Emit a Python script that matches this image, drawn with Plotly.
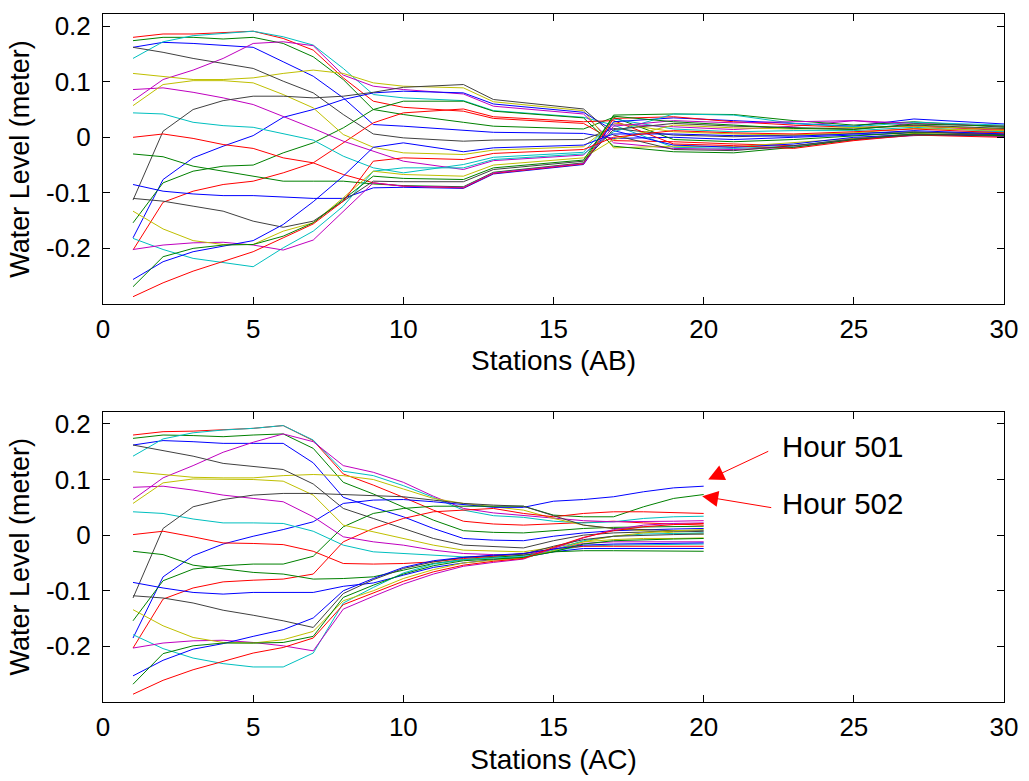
import plotly.graph_objects as go

# ---------------- data: top panel (Stations AB) ----------------
stations_ab = [1, 2, 3, 4, 5, 6, 7, 8, 9, 10, 12, 13, 16, 17, 19, 21, 23, 25, 27, 30]

ab_R1 = [0.180, 0.186, 0.186, 0.189, 0.191, 0.178, 0.157, 0.107, 0.065, 0.054, 0.047, 0.034, 0.025, -0.006, -0.008, -0.012, -0.015, -0.005, 0.006, 0.002]
ab_G1 = [0.174, 0.180, 0.180, 0.177, 0.180, 0.169, 0.145, 0.104, 0.050, 0.041, 0.027, 0.020, 0.015, 0.036, -0.004, -0.008, -0.004, 0.002, 0.009, 0.006]
ab_C1 = [0.142, 0.172, 0.183, 0.187, 0.191, 0.181, 0.166, 0.124, 0.077, 0.071, 0.066, 0.048, 0.036, 0.022, -0.018, -0.020, -0.016, -0.002, 0.006, 0.004]
ab_B1 = [0.162, 0.171, 0.169, 0.166, 0.162, 0.136, 0.110, 0.071, 0.023, 0.020, 0.012, 0.009, 0.007, -0.002, 0.000, -0.004, 0.000, 0.004, 0.008, 0.010]
ab_K1 = [0.162, 0.153, 0.142, 0.133, 0.124, 0.101, 0.080, 0.041, 0.006, -0.001, -0.007, -0.005, -0.004, 0.016, 0.004, 0.001, 0.004, 0.008, 0.010, 0.004]
ab_M2 = [0.066, 0.104, 0.121, 0.142, 0.169, 0.172, 0.165, 0.112, 0.092, 0.086, 0.078, 0.056, 0.042, -0.010, -0.020, -0.022, -0.018, -0.004, 0.003, 0.008]
ab_Y1 = [0.115, 0.110, 0.104, 0.104, 0.107, 0.115, 0.121, 0.115, 0.098, 0.092, 0.089, 0.064, 0.048, -0.019, -0.016, -0.017, -0.010, -0.002, 0.007, 0.009]
ab_Y2 = [0.057, 0.095, 0.102, 0.102, 0.098, 0.077, 0.053, 0.005, -0.018, -0.028, -0.031, -0.023, -0.017, 0.026, 0.010, 0.006, 0.004, 0.008, 0.016, 0.012]
ab_M1 = [0.086, 0.089, 0.081, 0.071, 0.059, 0.038, 0.016, -0.007, -0.025, -0.043, -0.058, -0.042, -0.032, 0.024, 0.019, 0.014, 0.020, 0.030, 0.021, 0.012]
ab_K2 = [-0.113, 0.011, 0.050, 0.066, 0.074, 0.074, 0.071, 0.074, 0.081, 0.090, 0.095, 0.068, 0.051, 0.004, -0.022, -0.024, -0.015, -0.003, 0.004, 0.005]
ab_C2 = [0.044, 0.042, 0.027, 0.021, 0.018, 0.007, -0.005, -0.034, -0.055, -0.064, -0.049, -0.036, -0.027, 0.033, 0.015, 0.010, 0.012, 0.012, 0.018, 0.010]
ab_B3 = [-0.181, -0.076, -0.037, -0.016, 0.003, 0.036, 0.050, 0.068, 0.080, 0.083, 0.080, 0.060, 0.045, 0.012, -0.014, -0.018, -0.012, 0.000, 0.005, 0.002]
ab_R2 = [0.000, 0.006, -0.002, -0.013, -0.020, -0.037, -0.046, -0.067, -0.082, -0.088, -0.091, -0.065, -0.048, 0.034, 0.037, 0.028, 0.022, 0.018, 0.020, 0.014]
ab_G2 = [-0.030, -0.035, -0.052, -0.061, -0.070, -0.079, -0.079, -0.079, -0.084, -0.087, -0.089, -0.063, -0.046, 0.040, 0.042, 0.041, 0.030, 0.022, 0.028, 0.018]
ab_G3 = [-0.154, -0.082, -0.061, -0.052, -0.050, -0.028, -0.010, 0.017, 0.050, 0.065, 0.065, 0.047, 0.035, -0.016, -0.026, -0.028, -0.018, -0.004, 0.006, 0.003]
ab_R3 = [-0.203, -0.117, -0.097, -0.085, -0.079, -0.064, -0.046, -0.010, 0.026, 0.044, 0.051, 0.037, 0.028, 0.030, -0.012, -0.015, -0.020, -0.006, 0.004, 0.000]
ab_B2 = [-0.085, -0.097, -0.102, -0.105, -0.105, -0.108, -0.110, -0.110, -0.091, -0.090, -0.092, -0.066, -0.049, 0.028, 0.035, 0.030, 0.025, 0.020, 0.033, 0.024]
ab_K3 = [-0.110, -0.115, -0.124, -0.133, -0.151, -0.162, -0.151, -0.115, -0.079, -0.080, -0.080, -0.058, -0.043, 0.014, 0.025, 0.020, 0.018, 0.015, 0.022, 0.016]
ab_Y3 = [-0.133, -0.165, -0.186, -0.193, -0.193, -0.169, -0.154, -0.109, -0.061, -0.067, -0.070, -0.050, -0.037, -0.004, 0.022, 0.017, 0.015, 0.017, 0.020, 0.015]
ab_B4 = [-0.256, -0.224, -0.206, -0.196, -0.186, -0.157, -0.116, -0.070, -0.018, -0.010, -0.026, -0.019, -0.014, 0.006, 0.006, 0.003, 0.002, 0.006, 0.012, 0.006]
ab_G4 = [-0.269, -0.215, -0.200, -0.194, -0.193, -0.178, -0.154, -0.112, -0.070, -0.074, -0.076, -0.055, -0.041, 0.038, 0.028, 0.022, 0.016, 0.014, 0.024, 0.020]
ab_R4 = [-0.287, -0.262, -0.241, -0.224, -0.206, -0.181, -0.156, -0.115, -0.043, -0.037, -0.040, -0.029, -0.022, 0.000, 0.012, 0.008, 0.006, 0.010, 0.015, 0.008]
ab_C3 = [-0.182, -0.202, -0.218, -0.226, -0.233, -0.199, -0.169, -0.124, -0.061, -0.055, -0.055, -0.040, -0.030, 0.010, 0.042, 0.040, 0.025, 0.019, 0.027, 0.022]
ab_M3 = [-0.202, -0.194, -0.190, -0.189, -0.194, -0.203, -0.185, -0.133, -0.082, -0.088, -0.090, -0.064, -0.047, 0.020, 0.030, 0.026, 0.028, 0.030, 0.025, 0.020]

# ---------------- data: bottom panel (Stations AC) ----------------
stations_ac = list(range(1, 21))

ac_R1 = [0.180, 0.186, 0.187, 0.189, 0.192, 0.197, 0.170, 0.110, 0.090, 0.068, 0.045, 0.025, 0.020, 0.018, 0.020, 0.022, 0.025, 0.022, 0.020, 0.018]
ac_G1 = [0.174, 0.180, 0.179, 0.177, 0.180, 0.182, 0.156, 0.095, 0.074, 0.050, 0.027, 0.008, 0.005, 0.004, 0.008, 0.012, 0.014, 0.015, 0.016, 0.016]
ac_C1 = [0.142, 0.173, 0.184, 0.189, 0.192, 0.197, 0.171, 0.115, 0.107, 0.089, 0.068, 0.045, 0.035, 0.032, 0.025, 0.022, 0.024, 0.030, 0.033, 0.034]
ac_B1 = [0.162, 0.170, 0.168, 0.165, 0.165, 0.165, 0.130, 0.068, 0.050, 0.033, 0.012, -0.006, -0.009, -0.010, -0.002, 0.004, 0.008, 0.010, 0.011, 0.012]
ac_K1 = [0.162, 0.152, 0.142, 0.129, 0.123, 0.118, 0.092, 0.048, 0.030, 0.012, -0.006, -0.018, -0.021, -0.023, -0.010, 0.000, 0.004, 0.006, 0.007, 0.008]
ac_M2 = [0.064, 0.103, 0.125, 0.149, 0.167, 0.182, 0.168, 0.125, 0.113, 0.095, 0.070, 0.048, 0.040, 0.035, 0.030, 0.026, 0.024, 0.024, 0.025, 0.026]
ac_Y1 = [0.114, 0.109, 0.104, 0.103, 0.103, 0.107, 0.109, 0.107, 0.100, 0.083, 0.066, 0.057, 0.051, 0.045, 0.030, 0.018, 0.012, 0.008, 0.004, 0.002]
ac_Y2 = [0.057, 0.094, 0.101, 0.100, 0.100, 0.097, 0.072, 0.018, 0.006, -0.006, -0.018, -0.027, -0.028, -0.030, -0.022, -0.012, -0.008, -0.006, -0.006, -0.005]
ac_M1 = [0.086, 0.088, 0.081, 0.072, 0.066, 0.060, 0.033, -0.003, -0.012, -0.018, -0.027, -0.033, -0.035, -0.036, -0.025, -0.015, -0.012, -0.012, -0.012, -0.012]
ac_K2 = [-0.113, 0.012, 0.051, 0.064, 0.072, 0.075, 0.075, 0.073, 0.072, 0.069, 0.063, 0.057, 0.054, 0.052, 0.035, 0.018, 0.012, 0.010, 0.008, 0.006]
ac_C2 = [0.042, 0.039, 0.029, 0.022, 0.022, 0.021, 0.007, -0.018, -0.030, -0.033, -0.036, -0.039, -0.039, -0.039, -0.028, -0.020, -0.018, -0.017, -0.016, -0.016]
ac_B3 = [-0.185, -0.075, -0.037, -0.016, -0.002, 0.010, 0.024, 0.057, 0.063, 0.064, 0.060, 0.055, 0.050, 0.050, 0.061, 0.064, 0.069, 0.078, 0.085, 0.088]
ac_R2 = [0.001, 0.007, -0.003, -0.014, -0.015, -0.017, -0.029, -0.051, -0.052, -0.051, -0.048, -0.042, -0.038, -0.033, -0.025, -0.020, -0.020, -0.020, -0.020, -0.020]
ac_G2 = [-0.029, -0.035, -0.054, -0.061, -0.067, -0.070, -0.079, -0.078, -0.075, -0.063, -0.051, -0.044, -0.040, -0.036, -0.030, -0.028, -0.028, -0.028, -0.028, -0.029]
ac_G3 = [-0.154, -0.082, -0.061, -0.055, -0.052, -0.052, -0.038, 0.015, 0.039, 0.048, 0.052, 0.052, 0.052, 0.052, 0.036, 0.033, 0.033, 0.051, 0.066, 0.073]
ac_R3 = [-0.203, -0.115, -0.095, -0.084, -0.081, -0.079, -0.070, -0.012, 0.012, 0.030, 0.042, 0.045, 0.048, 0.039, 0.033, 0.039, 0.042, 0.042, 0.041, 0.039]
ac_B2 = [-0.085, -0.095, -0.103, -0.106, -0.103, -0.103, -0.103, -0.092, -0.086, -0.072, -0.058, -0.050, -0.044, -0.040, -0.030, -0.024, -0.024, -0.024, -0.024, -0.024]
ac_K3 = [-0.109, -0.113, -0.122, -0.135, -0.144, -0.154, -0.166, -0.105, -0.080, -0.060, -0.048, -0.040, -0.037, -0.034, -0.020, -0.008, -0.002, 0.000, 0.001, 0.002]
ac_Y3 = [-0.134, -0.163, -0.184, -0.193, -0.194, -0.188, -0.173, -0.118, -0.100, -0.078, -0.062, -0.050, -0.045, -0.041, -0.028, -0.012, -0.002, 0.004, 0.008, 0.010]
ac_B4 = [-0.253, -0.225, -0.205, -0.195, -0.182, -0.170, -0.149, -0.100, -0.078, -0.058, -0.046, -0.040, -0.036, -0.033, -0.025, -0.018, -0.016, -0.015, -0.014, -0.014]
ac_G4 = [-0.268, -0.213, -0.199, -0.194, -0.194, -0.193, -0.182, -0.112, -0.090, -0.070, -0.055, -0.046, -0.043, -0.040, -0.030, -0.016, -0.010, -0.008, -0.007, -0.006]
ac_R4 = [-0.286, -0.261, -0.242, -0.227, -0.212, -0.202, -0.185, -0.125, -0.104, -0.083, -0.066, -0.054, -0.047, -0.042, -0.022, -0.004, 0.008, 0.015, 0.019, 0.021]
ac_C3 = [-0.179, -0.204, -0.221, -0.231, -0.237, -0.237, -0.212, -0.122, -0.094, -0.068, -0.052, -0.044, -0.041, -0.039, -0.027, -0.010, -0.002, 0.002, 0.003, 0.004]
ac_M3 = [-0.203, -0.194, -0.190, -0.189, -0.193, -0.199, -0.208, -0.133, -0.110, -0.088, -0.070, -0.056, -0.049, -0.043, -0.024, -0.005, 0.010, 0.018, 0.021, 0.022]

x_ticks = [0, 5, 10, 15, 20, 25, 30]
y_ticks = [-0.2, -0.1, 0, 0.1, 0.2]
y_tick_labels = ["-0.2", "-0.1", "0", "0.1", "0.2"]

# MATLAB classic colour order
colors = {"B": "rgb(0,0,255)", "G": "rgb(0,128,0)", "R": "rgb(255,0,0)",
          "C": "rgb(0,191,191)", "M": "rgb(191,0,191)", "Y": "rgb(191,191,0)",
          "K": "rgb(64,64,64)"}

top_series = [("B1", ab_B1), ("G1", ab_G1), ("R1", ab_R1), ("C1", ab_C1), ("M2", ab_M2), ("Y1", ab_Y1), ("K1", ab_K1),
              ("B3", ab_B3), ("G3", ab_G3), ("R3", ab_R3), ("C2", ab_C2), ("M1", ab_M1), ("Y2", ab_Y2), ("K2", ab_K2),
              ("B2", ab_B2), ("G2", ab_G2), ("R2", ab_R2), ("C3", ab_C3), ("M3", ab_M3), ("Y3", ab_Y3), ("K3", ab_K3),
              ("B4", ab_B4), ("G4", ab_G4), ("R4", ab_R4)]
bot_series = [("B1", ac_B1), ("G1", ac_G1), ("R1", ac_R1), ("C1", ac_C1), ("M2", ac_M2), ("Y1", ac_Y1), ("K1", ac_K1),
              ("B3", ac_B3), ("G3", ac_G3), ("R3", ac_R3), ("C2", ac_C2), ("M1", ac_M1), ("Y2", ac_Y2), ("K2", ac_K2),
              ("B2", ac_B2), ("G2", ac_G2), ("R2", ac_R2), ("C3", ac_C3), ("M3", ac_M3), ("Y3", ac_Y3), ("K3", ac_K3),
              ("B4", ac_B4), ("G4", ac_G4), ("R4", ac_R4)]

fig = go.Figure()
for name, vals in top_series:
    fig.add_trace(go.Scatter(x=stations_ab, y=vals, mode="lines", name=name,
                             line=dict(color=colors[name[0]], width=1), xaxis="x", yaxis="y",
                             showlegend=False))
for name, vals in bot_series:
    fig.add_trace(go.Scatter(x=stations_ac, y=vals, mode="lines", name=name,
                             line=dict(color=colors[name[0]], width=1), xaxis="x2", yaxis="y2",
                             showlegend=False))

FONT = "Liberation Sans, Arial, sans-serif"
axis_common = dict(showline=True, linecolor="black", linewidth=1, mirror="ticks",
                   ticks="inside", ticklen=7, tickcolor="black", tickwidth=1,
                   showgrid=False, zeroline=False,
                   tickfont=dict(family=FONT, size=26, color="black"))

fig.update_layout(
    width=1029, height=781,
    margin=dict(l=103, r=18, t=11, b=74),
    paper_bgcolor="white", plot_bgcolor="white",
    font=dict(family=FONT, color="black"),
    xaxis=dict(domain=[0, 1], range=[0, 30], tickvals=x_ticks, anchor="y", ticklabelstandoff=2,
               title=dict(text="Stations (AB)", font=dict(size=28), standoff=7), **axis_common),
    yaxis=dict(domain=[0.5786, 1], range=[-0.3, 0.222], tickvals=y_ticks, ticktext=y_tick_labels,
               anchor="x", ticklabelstandoff=6,
               title=dict(text="Water Level (meter)", font=dict(size=27), standoff=8),
               **axis_common),
    xaxis2=dict(domain=[0, 1], range=[0, 30], tickvals=x_ticks, anchor="y2", ticklabelstandoff=2,
                title=dict(text="Stations (AC)", font=dict(size=28), standoff=8), **axis_common),
    yaxis2=dict(domain=[0, 0.422], range=[-0.3, 0.222], tickvals=y_ticks, ticktext=y_tick_labels,
                anchor="x2", ticklabelstandoff=6,
                title=dict(text="Water Level (meter)", font=dict(size=27), standoff=8),
                **axis_common),
)

# Hour 501 / 502 annotations
fig.add_annotation(x=20.15, y=0.100, xref="x2", yref="y2", ax=22.2, ay=0.152, axref="x2", ayref="y2",
                   text="", showarrow=True, arrowhead=2, arrowsize=3.2, arrowwidth=1, arrowcolor="red")
fig.add_annotation(x=19.95, y=0.070, xref="x2", yref="y2", ax=22.3, ay=0.049, axref="x2", ayref="y2",
                   text="", showarrow=True, arrowhead=2, arrowsize=3.2, arrowwidth=1, arrowcolor="red")
fig.add_annotation(x=22.55, y=0.160, xref="x2", yref="y2", text="Hour 501", showarrow=False,
                   xanchor="left", yanchor="middle", font=dict(family=FONT, size=29.5, color="black"))
fig.add_annotation(x=22.55, y=0.056, xref="x2", yref="y2", text="Hour 502", showarrow=False,
                   xanchor="left", yanchor="middle", font=dict(family=FONT, size=29.5, color="black"))

fig.write_html("out.html")
